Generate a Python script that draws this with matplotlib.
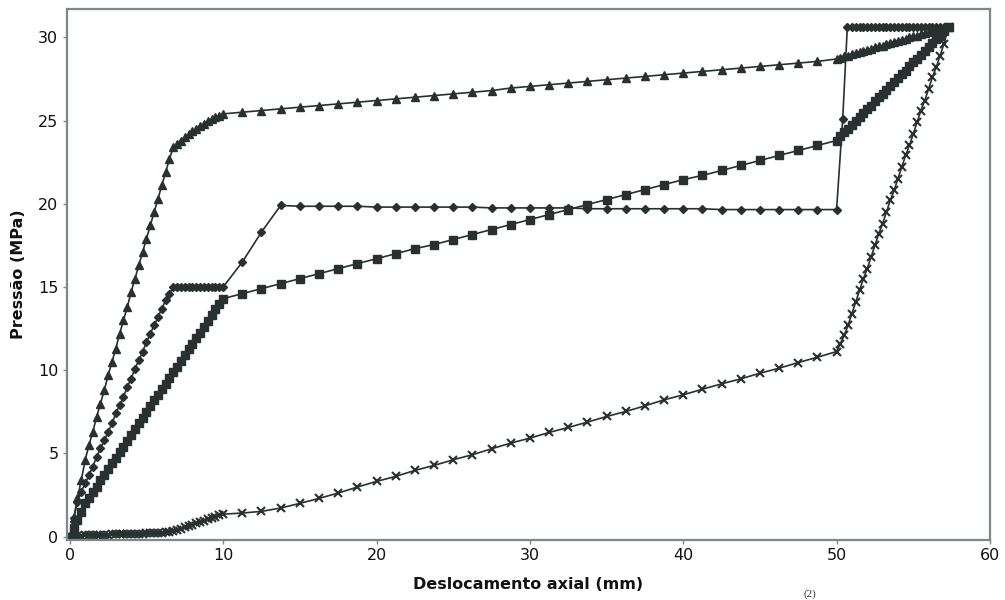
import matplotlib
matplotlib.use('Agg')
import matplotlib.pyplot as plt

# shared displacement grids (mm)
x_load = [0.0, 0.25, 0.5, 0.75, 1.0, 1.25, 1.5, 1.75, 2.0, 2.25, 2.5, 2.75, 3.0, 3.25,
          3.5, 3.75, 4.0, 4.25, 4.5, 4.75, 5.0, 5.25, 5.5, 5.75, 6.0, 6.25, 6.5, 6.75,
          7.0, 7.25, 7.5, 7.75, 8.0, 8.25, 8.5, 8.75, 9.0, 9.25, 9.5, 9.75, 10.0]
x_mid = [11.25, 12.5, 13.75, 15.0, 16.25, 17.5, 18.75, 20.0, 21.25, 22.5, 23.75, 25.0,
         26.25, 27.5, 28.75, 30.0, 31.25, 32.5, 33.75, 35.0, 36.25, 37.5, 38.75, 40.0,
         41.25, 42.5, 43.75, 45.0, 46.25, 47.5, 48.75, 50.0]
x_end = [50.25, 50.5, 50.75, 51.0, 51.25, 51.5, 51.75, 52.0, 52.25, 52.5, 52.75, 53.0,
         53.25, 53.5, 53.75, 54.0, 54.25, 54.5, 54.75, 55.0, 55.25, 55.5, 55.75, 56.0,
         56.25, 56.5, 56.75, 57.0, 57.3]

# triangles
tri_load = [0.0, 1.1, 2.3, 3.4, 4.6, 5.5, 6.3, 7.2, 8.0, 8.8, 9.7, 10.5, 11.3, 12.2,
            13.0, 13.8, 14.7, 15.5, 16.3, 17.1, 17.9, 18.7, 19.5, 20.3, 21.1, 21.9, 22.7, 23.4,
            23.6, 23.8, 24.0, 24.2, 24.35, 24.5, 24.65, 24.8, 24.95, 25.1, 25.2, 25.3, 25.4]
tri_mid = [25.5, 25.6, 25.7, 25.8, 25.9, 26.0, 26.1, 26.2, 26.3, 26.4, 26.5, 26.6,
           26.7, 26.8, 26.95, 27.05, 27.15, 27.25, 27.35, 27.45, 27.55, 27.65, 27.75, 27.85,
           27.95, 28.05, 28.15, 28.25, 28.35, 28.45, 28.55, 28.7]
tri_end = [28.75, 28.85, 28.9, 29.0, 29.05, 29.1, 29.2, 29.25, 29.3, 29.4, 29.45, 29.5,
           29.6, 29.65, 29.7, 29.8, 29.85, 29.9, 30.0, 30.05, 30.1, 30.2, 30.25, 30.3,
           30.4, 30.45, 30.5, 30.55, 30.6]

# diamonds
dia_load = [0.0, 1.1, 2.1, 2.7, 3.2, 3.7, 4.2, 4.8, 5.3, 5.8, 6.3, 6.8, 7.4, 7.9,
            8.4, 9.0, 9.5, 10.1, 10.6, 11.1, 11.7, 12.2, 12.7, 13.2, 13.7, 14.2, 14.6, 15.0,
            15.0, 15.0, 15.0, 15.0, 15.0, 15.0, 15.0, 15.0, 15.0, 15.0, 15.0, 15.0, 15.0]
dia_mid = [16.5, 18.3, 19.9, 19.85, 19.85, 19.85, 19.85, 19.8, 19.8, 19.8, 19.8, 19.8,
           19.8, 19.75, 19.75, 19.75, 19.75, 19.75, 19.7, 19.7, 19.7, 19.7, 19.7, 19.7,
           19.7, 19.65, 19.65, 19.65, 19.65, 19.65, 19.65, 19.65]
dia_jump_x = [50.4, 50.7]
dia_jump_y = [25.1, 30.6]
dia_top = 30.6

# squares
sq_load = [0.0, 0.5, 1.0, 1.5, 2.0, 2.35, 2.7, 3.0, 3.4, 3.7, 4.05, 4.4, 4.75, 5.1,
           5.4, 5.75, 6.1, 6.45, 6.8, 7.15, 7.5, 7.85, 8.2, 8.5, 8.85, 9.2, 9.55, 9.9,
           10.2, 10.55, 10.9, 11.25, 11.6, 11.95, 12.25, 12.6, 12.95, 13.3, 13.65, 13.95, 14.3]
sq_mid = [14.6, 14.9, 15.2, 15.5, 15.8, 16.1, 16.4, 16.7, 17.0, 17.3, 17.55, 17.85,
          18.15, 18.45, 18.75, 19.05, 19.35, 19.65, 19.95, 20.25, 20.55, 20.85, 21.15, 21.45,
          21.7, 22.0, 22.3, 22.6, 22.9, 23.2, 23.5, 23.8]
sq_end = [24.05, 24.3, 24.5, 24.75, 25.0, 25.2, 25.45, 25.7, 25.9, 26.15, 26.4, 26.6,
          26.85, 27.1, 27.3, 27.55, 27.8, 28.0, 28.25, 28.5, 28.7, 28.95, 29.2, 29.4,
          29.65, 29.9, 30.1, 30.35, 30.6]

# crosses
cr_load = [0.0, 0.03, 0.05, 0.07, 0.08, 0.09, 0.1, 0.11, 0.12, 0.13, 0.13, 0.14, 0.15, 0.15,
           0.16, 0.17, 0.17, 0.18, 0.19, 0.19, 0.2, 0.21, 0.22, 0.23, 0.24, 0.26, 0.28, 0.32,
           0.4, 0.48, 0.56, 0.64, 0.72, 0.8, 0.88, 0.96, 1.04, 1.12, 1.2, 1.28, 1.35]
cr_mid = [1.42, 1.52, 1.72, 2.0, 2.3, 2.62, 2.98, 3.32, 3.62, 3.98, 4.28, 4.62,
          4.92, 5.28, 5.62, 5.92, 6.26, 6.56, 6.88, 7.22, 7.52, 7.86, 8.22, 8.52,
          8.86, 9.18, 9.48, 9.82, 10.12, 10.46, 10.78, 11.12]
cr_end = [11.6, 12.1, 12.7, 13.4, 14.1, 14.8, 15.5, 16.1, 16.8, 17.5, 18.2, 18.8,
          19.5, 20.2, 20.8, 21.5, 22.2, 22.9, 23.5, 24.2, 24.9, 25.6, 26.2, 26.9,
          27.6, 28.2, 28.9, 29.6, 30.6]

ink = '#283030'

fig = plt.figure(figsize=(10.05, 6.0), dpi=100)
ax = fig.add_axes([0.0664, 0.1, 0.9186, 0.885])

ax.plot(x_load + x_mid + x_end, tri_load + tri_mid + tri_end, color=ink, lw=1.2,
        marker='^', ms=6, mec=ink, mfc=ink)
dia_x = x_load + x_mid + dia_jump_x + x_end[3:]
dia_y = dia_load + dia_mid + dia_jump_y + [dia_top] * len(x_end[3:])
ax.plot(dia_x, dia_y, color=ink, lw=1.2, marker='D', ms=3.8, mec=ink, mfc=ink)
ax.plot(x_load + x_mid + x_end, sq_load + sq_mid + sq_end, color=ink, lw=1.2,
        marker='s', ms=5.3, mec=ink, mfc=ink)
ax.plot(x_load + x_mid + x_end, cr_load + cr_mid + cr_end, color=ink, lw=1.2,
        marker='x', ms=6, mew=1.5, mec=ink)

ax.set_xlim(-0.2, 60)
ax.set_ylim(-0.2, 31.7)
ax.set_xticks([0, 10, 20, 30, 40, 50, 60])
ax.set_yticks([0, 5, 10, 15, 20, 25, 30])

for sp in ax.spines.values():
    sp.set_color('#7e8888')
    sp.set_linewidth(1.6)
ax.tick_params(colors='#7e8888', labelcolor='#111111', labelsize=11.5,
               length=3, width=1, pad=3)

ax.set_xlabel('Deslocamento axial (mm)', fontsize=11.5, fontweight='bold',
              color='#111111', labelpad=10)
ax.set_ylabel('Pressão (MPa)', fontsize=11.5, fontweight='bold',
              color='#111111', labelpad=9)

fig.text(0.806, 0.002, '(2)', family='Liberation Serif', fontsize=8,
         va='bottom', ha='center', color='#333333')

fig.savefig('out.png', dpi=100)
